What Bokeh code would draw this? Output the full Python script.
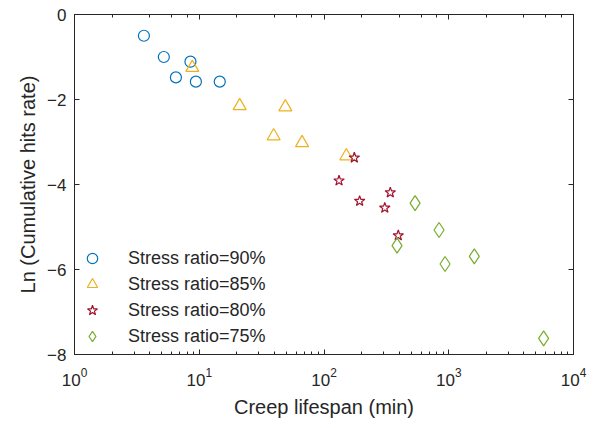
from bokeh.plotting import figure
from bokeh.models import LogAxis, LinearAxis, Legend, LegendItem, Range1d, CustomJSTickFormatter, FixedTicker
from bokeh.embed import file_html
from bokeh.resources import INLINE

# Data
x90 = [3.6, 5.2, 8.5, 6.5, 9.4, 14.6]
y90 = [-0.50, -1.00, -1.11, -1.48, -1.58, -1.58]

x85 = [8.8, 21.1, 49.0, 39.5, 66.7, 151.0]
y85 = [-1.25, -2.15, -2.18, -2.86, -3.02, -3.33]

x80 = [175.0, 132.0, 340.0, 193.0, 307.0, 394.0]
y80 = [-3.37, -3.91, -4.19, -4.39, -4.55, -5.20]

x75 = [537.0, 385.0, 836.0, 934.0, 1603.0, 5760.0]
y75 = [-4.44, -5.44, -5.07, -5.87, -5.69, -7.62]

labels = ["Stress ratio=90%", "Stress ratio=85%", "Stress ratio=80%", "Stress ratio=75%"]
colors = ["#0072BD", "#EDB120", "#A2142F", "#77AC30"]
y_ticks = [-8, -6, -4, -2, 0]

FONT = "Liberation Sans"
TXT = "#262626"

p = figure(width=593, height=428, x_axis_type="log", output_backend="svg",
           toolbar_location=None, x_range=Range1d(1, 1e4), y_range=Range1d(-8, 0),
           min_border_left=74, min_border_right=20, min_border_top=14, min_border_bottom=74)
p.xgrid.visible = False
p.ygrid.visible = False
p.outline_line_color = TXT
p.outline_line_width = 1
p.background_fill_color = "white"

r1 = p.scatter(x90, y90, marker="circle", size=11, fill_color=None, line_color=colors[0], line_width=1.2)
r2 = p.scatter(x85, y85, marker="triangle", size=13, fill_color=None, line_color=colors[1], line_width=1.2)
r3 = p.scatter(x80, y80, marker="star", size=11, fill_color=None, line_color=colors[2], line_width=1.2)
r4 = p.scatter(x75, y75, marker="diamond", size=15, fill_color=None, line_color=colors[3], line_width=1.2)

for ax in (p.xaxis[0], p.yaxis[0]):
    ax.major_tick_in = 5
    ax.major_tick_out = 0
    ax.minor_tick_in = 3
    ax.minor_tick_out = 0
    ax.axis_line_color = TXT
    ax.major_tick_line_color = TXT
    ax.minor_tick_line_color = TXT
    ax.major_label_text_font = FONT
    ax.major_label_text_color = TXT
    ax.major_label_text_font_size = "17px"
    ax.axis_label_text_font = FONT
    ax.axis_label_text_color = TXT
    ax.axis_label_text_font_size = "20px"
    ax.axis_label_text_font_style = "normal"

p.yaxis[0].ticker = FixedTicker(ticks=y_ticks)
p.yaxis[0].minor_tick_in = 0
p.xaxis[0].axis_label = "Creep lifespan (min)"
p.yaxis[0].axis_label = "Ln (Cumulative hits rate)"
p.xaxis[0].major_label_standoff = 13
p.xaxis[0].axis_label_standoff = 7
p.yaxis[0].major_label_standoff = 8
p.yaxis[0].axis_label_standoff = 5

blank = CustomJSTickFormatter(code="return '';")
top = LogAxis(formatter=blank, major_tick_in=5, major_tick_out=0, minor_tick_in=3, minor_tick_out=0,
              axis_line_color=TXT, major_tick_line_color=TXT, minor_tick_line_color=TXT,
              major_label_text_font_size="1px", major_label_standoff=0)
right = LinearAxis(formatter=blank, ticker=FixedTicker(ticks=y_ticks), major_tick_in=5, major_tick_out=0,
                   minor_tick_in=0, minor_tick_out=0,
                   axis_line_color=TXT, major_tick_line_color=TXT,
                   major_label_text_font_size="1px", major_label_standoff=0)
p.add_layout(top, "above")
p.add_layout(right, "right")

legend = Legend(items=[LegendItem(label=labels[i], renderers=[r]) for i, r in enumerate([r1, r2, r3, r4])],
                location=(0, 0), background_fill_alpha=0, border_line_alpha=0,
                label_text_font=FONT, label_text_font_size="18px", label_text_color=TXT,
                glyph_width=26, glyph_height=26, label_height=26, spacing=0, label_standoff=23,
                padding=5, margin=0)
p.add_layout(legend)

open("out.html", "w").write(file_html(p, INLINE))
